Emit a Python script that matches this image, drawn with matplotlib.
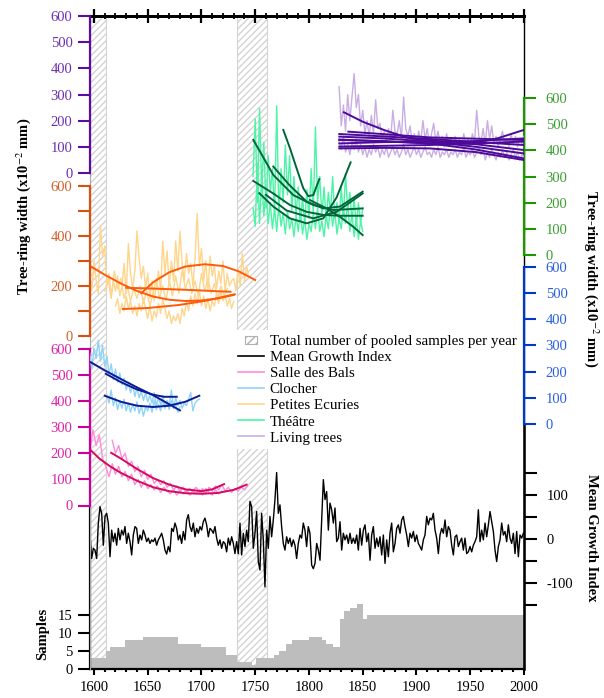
import matplotlib.pyplot as plt
import matplotlib.patches as patches
from matplotlib.lines import Line2D
from matplotlib.legend_handler import HandlerPatch
from matplotlib.ticker import MultipleLocator
import numpy as np

plt.rcParams['font.family'] = ['Liberation Serif', 'DejaVu Serif']
plt.rcParams['mathtext.fontset'] = 'stix'
plt.rcParams['axes.unicode_minus'] = False
plt.rcParams['hatch.linewidth'] = 1.0


def yrs(start, step, vals):
    return np.arange(len(vals)) * step + start


# ---------------- data ----------------
# sample depth (step function)
samp_edges = [1596, 1611, 1615, 1629, 1646, 1678, 1700, 1723, 1733, 1747, 1751,
              1767, 1772, 1779, 1784, 1800, 1812, 1816, 1822, 1829, 1833, 1838,
              1845, 1850, 1854, 2000]
samp_counts = [3, 5, 6, 8, 9, 7, 6, 4, 2, 1, 3, 4, 5, 7, 8, 9, 8, 7, 6, 14, 16,
               17, 18, 14, 15]

# gaps (hatched)
gaps = [(1596.3, 1611.2), (1733.3, 1760.7)]

# mean growth index
mgi_a = [9, -44, -21, -25, -44, 36, 73, 58, -14, 51, 58, 36, -40, 20, -6, 13, -14,
         24, -2, 20, 9, 28, -10, 13, -6, -36, 9, 28, 24, -10, 9, -2, 20, 9, -6, 2,
         -10, -2, -6, 2, -14, -2, 5, 13, -2, -25, -34, -17, -29, 24, 17, 36, 24, -2,
         9, -10, 17, -2, 43, 55, 28, 17, 36, 5, 24, 13, 28, 20, 39, 47, 32, 5, 24,
         20, 13, 28, 2, -14, -2, -21, -6, -10, -29, 2, -14, 5, -10, -33, -6, -33,
         36, -36, 13, -17, 20, -6, 85, 73, -21, 13, 62, -51, -70, 58, -2, -108, 20,
         -21, 51, 5, 43, 89, 150, 58, 77, 28, -10, -25, 5, -10, 2, -17, -2, -14,
         -44, -10, 9, 2, 36, 20, -17, 28, 13]
mgi_b = [-59, -67, -55, -10, -25, -48, 43, 134, 89, 107, 20, 81, 66, 36, 70, -6, 2,
         39, -25, 13, -2, 9, -10, 13, -10, 2, -10, 9, -25, 24, -14, 20, 32, -6, 13,
         -48, 9, 28, -21, 2, -17, 5, -36, 9, -55, -2, -40, 13, 36, -29, -10, 24, 32,
         13, 43, 51, 28, 9, -17, 13, 2, 17, -6, 9, -10, -17, -25, -2, 9, 51, 32, 47,
         43, 58, 20, 2, -33, 9, 24, 13, 43, 5, 28, 20, -14, -36, 5, 9, -17, -6, 2,
         -25, 2, -33, -29, -17, -29, -14, -6, 5, 66, -6, 20, -2, 36, 5, 32, 62, 39,
         17, -25, -51, -17, -2, 36, 9, 17, -6, 32, 2, -10, 13, -33, 17, -40, 9, 2, 13]
mgi_years = np.concatenate([np.linspace(1596.3, 1800.9, len(mgi_a)),
                            np.linspace(1802.5, 1999.4, len(mgi_b))])
mgi_vals = mgi_a + mgi_b

# Salle des Bals (pink axis)
sdb_a = [200, 290, 230, 270, 180, 150, 110, 160, 120, 150, 110, 130, 95, 120, 80,
         100, 70, 95, 65, 80, 60, 75, 50, 70, 55, 45, 60, 40, 55, 45, 60, 40, 55, 45,
         60, 40, 65, 50, 40, 60, 45, 55]
sdb_b = [250, 200, 230, 180, 200, 150, 170, 130, 150, 110, 135, 100, 120, 85, 100,
         80, 95, 70, 85, 60, 75, 55, 70, 50, 65, 55, 70, 50, 65, 45, 70, 55, 75, 60,
         80, 55, 70, 50, 65, 55, 70, 60, 75]
sdb_trend_x = [[1596, 1605, 1615, 1625, 1640, 1655, 1670, 1685, 1700, 1715, 1730, 1742],
               [1616, 1625, 1640, 1655, 1670, 1685, 1700, 1710, 1721]]
sdb_trend_y = [[216, 180, 150, 125, 95, 70, 55, 47, 45, 48, 60, 80],
               [202, 180, 140, 105, 80, 62, 55, 62, 82]]

# Clocher (blue axis)
clo_a = [270, 210, 290, 250, 320, 240, 300, 220, 260, 190, 230, 170, 210, 160, 195,
         150, 175, 130, 160, 120, 150, 105, 140, 100, 125, 90, 120, 85, 110, 80, 120,
         70, 100, 75, 110, 65, 90, 70, 130, 60, 100, 70, 90, 60, 80, 70, 95, 120, 50,
         80, 90, 95]
clo_b = [110, 80, 130, 70, 100, 55, 90, 60, 95, 50, 80, 45, 75, 50, 85, 40, 70, 30,
         65, 50, 80, 45, 90, 55, 75, 50, 95, 60, 80, 55, 90, 60, 75, 45, 65]
clo_trend_x = [[1597, 1610, 1625, 1640, 1655, 1668, 1680],
               [1611, 1625, 1640, 1655, 1665, 1677],
               [1610, 1625, 1640, 1655, 1670, 1685, 1698]]
clo_trend_y = [[236, 205, 172, 140, 110, 80, 52],
               [192, 160, 132, 112, 104, 104],
               [108, 85, 70, 65, 70, 85, 108]]

# Petites Ecuries (orange axis)
pe_a = [240, 180, 300, 220, 170, 440, 320, 360, 200, 250, 160, 220, 180, 240, 160,
        200, 290, 170, 370, 250, 190, 260, 420, 310, 230, 280, 190, 250, 150, 220,
        140, 200, 260, 180, 380, 250, 340, 200, 300, 220, 380, 260, 420, 290, 220,
        330, 250, 290, 200, 310, 490, 280, 350, 220, 300, 180, 320, 240, 280, 190,
        260, 210, 300, 180, 250, 200, 220, 230, 180, 270, 200, 330, 220, 280, 230]
pe_b = [120, 150, 90, 130, 100, 160, 110, 140, 90, 120, 80, 130, 100, 150, 110, 70,
        120, 60, 100, 75, 130, 90, 150, 110, 70, 100, 50, 80, 60, 90, 50, 110, 80,
        140, 100, 160, 120, 170, 130, 180, 120, 160, 110, 150, 100, 140, 120, 170,
        130, 180, 140, 160, 120, 150, 110, 140]
pe_c = [180, 230, 150, 260, 190, 230, 150, 200, 140, 190, 150, 200, 130, 180, 120,
        170, 230, 150, 200, 140, 220, 160, 240, 170, 260, 190, 230, 170, 220, 160,
        250, 180, 230, 170, 210, 150, 200, 160, 190]
pe_trend_x = [[1596, 1610, 1625, 1640, 1655, 1670, 1685, 1700, 1715, 1730],
              [1644, 1655, 1670, 1685, 1703, 1720, 1735, 1750],
              [1630, 1660, 1690, 1715, 1727],
              [1627, 1650, 1679, 1705, 1731]]
pe_trend_y = [[281, 245, 210, 180, 158, 145, 140, 142, 150, 164],
              [171, 215, 255, 278, 287, 280, 258, 224],
              [193, 189, 184, 179, 177],
              [108, 112, 124, 142, 167]]

# Theatre (green axis)
th_a = [300, 520, 200, 560, 250, 430, 180, 380, 240, 330, 160, 570, 150, 330, 200,
        420, 230, 380, 170, 300, 150, 260, 130, 220, 120, 250, 140, 330, 160, 490,
        200, 300, 150, 260, 130, 240, 160, 300, 140, 200, 120, 260, 150, 310, 170,
        240, 130, 220, 110, 200, 120, 180]
th_b = [180, 110, 350, 120, 300, 150, 250, 120, 200, 100, 180, 90, 200, 110, 160,
        80, 170, 100, 140, 70, 150, 90, 170, 80, 140, 60, 120, 90, 160, 100, 180, 90,
        130, 70, 150, 100, 190, 110, 170, 80, 140, 100, 180, 120, 200, 90, 160, 70,
        140, 60, 130, 90]
th_trend_x = [[1748.2, 1766.8, 1785.4, 1804, 1822.6, 1849.9],
              [1776.1, 1782.3, 1788.5, 1794.7, 1799.4, 1804, 1809.6],
              [1766.8, 1782.3, 1797.8, 1813.3, 1828.8, 1849.9],
              [1748.2, 1766.8, 1782.3, 1797.8, 1813.3, 1828.8, 1849.9],
              [1753.8, 1766.8, 1782.3, 1797.8, 1813.3, 1825.7, 1838.7],
              [1760, 1779.2, 1804, 1825.7, 1849.9],
              [1800.9, 1816.4, 1828.8, 1841.2, 1849.9]]
th_trend_y = [[440, 306, 229, 191, 172, 178],
              [478, 408, 331, 255, 225, 229, 290],
              [338, 265, 204, 178, 185, 242],
              [283, 235, 191, 165, 153, 150, 150],
              [236, 185, 140, 121, 140, 220, 354],
              [230, 170, 140, 165, 235],
              [210, 178, 146, 108, 76]]

# Living trees (purple axis)
liv_a = [330, 180, 260, 160, 300, 200, 290, 380, 250, 300, 180, 240, 150, 200, 140,
         220, 150, 280, 170, 190, 130, 160, 120, 170, 130, 240, 160, 150, 200, 130,
         290, 170, 140, 180, 120, 150, 110, 160, 120, 200, 130, 170, 110, 150, 190,
         120, 160, 110, 140, 100, 150, 110, 130, 100, 140, 110, 130, 100, 150, 110,
         130, 100, 150, 120, 240, 140, 120, 170, 110, 200, 130, 180, 110, 140, 100,
         130, 160, 110, 130, 100, 150, 110, 140, 100, 130, 110, 140]
liv_b = [120, 90, 140, 80, 110, 70, 120, 90, 130, 80, 110, 70, 100, 60, 90, 70, 110,
         80, 100, 60, 90, 70, 100, 60, 80, 100, 70, 90, 60, 80, 110, 70, 90, 60, 80,
         100, 70, 90, 60, 80, 100, 70, 80, 60, 90, 70, 100, 60, 80, 70, 90, 60, 80,
         70, 90, 60, 80, 70, 100, 60, 80, 70, 90, 60, 80, 100, 70, 90, 50, 80, 60, 90,
         70, 50, 80, 60, 90, 60, 80, 50, 70, 90, 60, 80, 50, 70, 60]
liv_trend_x = [[1832.5, 1850, 1870, 1894, 1920, 1953, 1975, 1999.4],
               [1836.6, 1912.5, 1999.4],
               [1828.2, 1912.5, 1999.4],
               [1828.2, 1870, 1912.5, 1955, 1999.4],
               [1828.2, 1870, 1912.5, 1955, 1999.4],
               [1828.2, 1870, 1912.5, 1955, 1999.4],
               [1828.2, 1912.5, 1999.4],
               [1828.2, 1870, 1912.5, 1955, 1999.4],
               [1828.2, 1912.5, 1999.4]]
liv_trend_y = [[232, 196, 164, 132, 122, 116, 132, 164],
               [158, 136, 126],
               [149, 130, 107],
               [139, 132, 120, 100, 75],
               [126, 122, 113, 90, 56],
               [113, 118, 120, 110, 88],
               [101, 107, 120],
               [94, 96, 94, 80, 50],
               [128, 113, 132]]

# ---------------- layout ----------------
W, H = 604, 698
TOP, BOT, LEFT, RIGHT = 16, 669, 90, 524
rect = [LEFT / W, 1 - BOT / H, (RIGHT - LEFT) / W, (BOT - TOP) / H]
TICK_FS = 10.5

fig = plt.figure(figsize=(W / 100, H / 100), dpi=100)


def place(ax, v0, y0, v1, y1):
    # value v0 sits at pixel row y0, v1 at pixel row y1
    s = (v1 - v0) / (y0 - y1)
    ax.set_ylim(v0 - (BOT - y0) * s, v0 + (y0 - TOP) * s)


def px(ax, y):
    lo, hi = ax.get_ylim()
    return lo + (BOT - y) / (BOT - TOP) * (hi - lo)


# samples axes (base)
ax_s = fig.add_axes(rect)
ax_s.set_xlim(1596.3, 2000)
place(ax_s, 0, 669, 15, 615)
for g0, g1 in gaps:
    ax_s.axvspan(g0, g1, facecolor='white', edgecolor='#d4d4d4',
                 hatch='/////', lw=0.8, zorder=0)
ax_s.stairs(samp_counts, samp_edges, fill=True, color='#bdbdbd', zorder=1)
ax_s.spines['left'].set_bounds(0, px(ax_s, 505.5))
ax_s.spines['left'].set_linewidth(1.6)
ax_s.spines['bottom'].set_linewidth(1.6)
ax_s.spines['top'].set_linewidth(2.0)
ax_s.spines['right'].set_linewidth(1.0)
ax_s.set_yticks([0, 5, 10, 15])
ax_s.tick_params(axis='y', direction='out', length=8.6, width=1.5,
                 labelsize=TICK_FS, pad=4)
ax_s.xaxis.set_major_locator(MultipleLocator(50))
ax_s.xaxis.set_minor_locator(MultipleLocator(10))
ax_s.tick_params(axis='x', which='major', direction='out', length=4.5,
                 width=1.5, labelsize=TICK_FS, pad=4)
ax_s.tick_params(axis='x', which='minor', direction='out', length=2.5, width=1.5)
sec = ax_s.secondary_xaxis('top')
sec.xaxis.set_major_locator(MultipleLocator(50))
sec.xaxis.set_minor_locator(MultipleLocator(10))
sec.tick_params(axis='x', which='major', direction='inout', length=9.5,
                width=1.6, labeltop=False)
sec.tick_params(axis='x', which='minor', direction='inout', length=5, width=1.3)
sec.spines['top'].set_linewidth(2.0)


def overlay(side, spine_color, label_color, v0, y0, v1, y1):
    a = fig.add_axes(rect, sharex=ax_s)
    a.patch.set_visible(False)
    place(a, v0, y0, v1, y1)
    for sp in a.spines.values():
        sp.set_visible(False)
    sp = a.spines[side]
    sp.set_visible(True)
    sp.set_color(spine_color)
    sp.set_linewidth(1.6)
    sp.set_bounds(v0, v1)
    a.yaxis.set_ticks_position(side)
    a.tick_params(axis='y', which='both', color=spine_color,
                  labelcolor=label_color, direction='out', length=8.6,
                  width=1.5, labelsize=TICK_FS,
                  pad=4 if side == 'left' else 7)
    a.tick_params(axis='x', which='both', bottom=False, top=False,
                  labelbottom=False)
    return a


# mean growth index
ax_m = fig.add_axes(rect, sharex=ax_s)
ax_m.patch.set_visible(False)
place(ax_m, 0, 539, 100, 494.7)
for s in ['top', 'bottom']:
    ax_m.spines[s].set_visible(False)
ax_m.spines['left'].set_color('#a8a8a8')
ax_m.spines['left'].set_linewidth(0.8)
ax_m.spines['right'].set_linewidth(1.8)
ax_m.spines['right'].set_bounds(px(ax_m, 669), px(ax_m, 424))
ax_m.yaxis.set_ticks_position('right')
ax_m.set_yticks([-100, 0, 100])
ax_m.set_yticks([-150, -50, 50, 150], minor=True)
ax_m.tick_params(axis='y', which='both', direction='out', length=9.5,
                 width=1.5, labelsize=TICK_FS, pad=7)
ax_m.tick_params(axis='x', which='both', bottom=False, top=False,
                 labelbottom=False)
ax_m.plot(mgi_years, mgi_vals, color='black', lw=1.0)

# Petites Ecuries
ax_o = overlay('left', '#d9500f', '#d2602a', 0, 336, 600, 186)
ax_o.set_yticks([0, 200, 400, 600])
ax_o.set_yticks([100, 300, 500], minor=True)
ax_o.plot(yrs(1596, 2, pe_a), pe_a, color='#ffd58c', lw=1.0)
ax_o.plot(yrs(1620, 2, pe_b), pe_b, color='#ffd58c', lw=1.0)
ax_o.plot(yrs(1610, 3, pe_c), pe_c, color='#ffd58c', lw=1.0)
for tx, ty in zip(pe_trend_x, pe_trend_y):
    ax_o.plot(tx, ty, color='#ff5a0a', lw=1.4)

# Salle des Bals
ax_p = overlay('left', '#cc0099', '#dd22aa', 0, 505.5, 600, 349)
ax_p.set_yticks(np.arange(0, 601, 100))
ax_p.plot(yrs(1596, 3, sdb_a), sdb_a, color='#ff8ade', lw=1.0)
ax_p.plot(yrs(1617, 3, sdb_b), sdb_b, color='#ff8ade', lw=1.0)
for tx, ty in zip(sdb_trend_x, sdb_trend_y):
    ax_p.plot(tx, ty, color='#d40a5c', lw=1.4)

# Clocher
ax_b = overlay('right', '#0038cc', '#2a5fe0', 0, 424, 600, 267)
ax_b.set_yticks(np.arange(0, 601, 100))
ax_b.plot(yrs(1596, 2, clo_a), clo_a, color='#8fd3fa', lw=1.0)
ax_b.plot(yrs(1612, 2, clo_b), clo_b, color='#8fd3fa', lw=1.0)
for tx, ty in zip(clo_trend_x, clo_trend_y):
    ax_b.plot(tx, ty, color='#0d1a96', lw=1.4)

# Theatre
ax_g = overlay('right', '#1e9600', '#3a9e30', 0, 255, 600, 98)
ax_g.set_yticks(np.arange(0, 601, 100))
ax_g.plot(yrs(1748, 2, th_a), th_a, color='#4cf5a6', lw=1.0)
ax_g.plot(yrs(1748, 2, th_b), th_b, color='#4cf5a6', lw=1.0)
for tx, ty in zip(th_trend_x, th_trend_y):
    ax_g.plot(tx, ty, color='#00663a', lw=1.4)

# Living trees
ax_u = overlay('left', '#5a0ba0', '#6b2fb0', 0, 173, 600, 16)
ax_u.set_yticks(np.arange(0, 601, 100))
ax_u.plot(yrs(1828, 2, liv_a), liv_a, color='#c9aee6', lw=1.0)
ax_u.plot(yrs(1828, 2, liv_b), liv_b, color='#c9aee6', lw=1.0)
for tx, ty in zip(liv_trend_x, liv_trend_y):
    ax_u.plot(tx, ty, color='#4d0a99', lw=1.4)


# legend
def small_box(legend, orig_handle, xdescent, ydescent, width, height, fontsize):
    return patches.Rectangle((-xdescent + width * 0.27, -ydescent + height * 0.1),
                             width * 0.46, height * 0.8)


hatch_patch = patches.Patch(facecolor='white', edgecolor='#b0b0b0',
                            hatch='////', lw=0.8)
handles = [hatch_patch,
           Line2D([], [], color='black', lw=1.2),
           Line2D([], [], color='#ff8ade', lw=1.2),
           Line2D([], [], color='#8fd3fa', lw=1.2),
           Line2D([], [], color='#ffd58c', lw=1.2),
           Line2D([], [], color='#4cf5a6', lw=1.2),
           Line2D([], [], color='#c9aee6', lw=1.2)]
labels = ['Total number of pooled samples per year', 'Mean Growth Index',
          'Salle des Bals', 'Clocher', 'Petites Ecuries', 'Théâtre',
          'Living trees']
leg = ax_u.legend(handles, labels, loc='upper left',
                  bbox_to_anchor=(233 / W, 1 - 330 / H),
                  bbox_transform=fig.transFigure, fontsize=10.8,
                  handlelength=1.75, handletextpad=0.4, labelspacing=0.17,
                  borderpad=0.3, borderaxespad=0, frameon=True,
                  fancybox=False, framealpha=1, facecolor='white',
                  edgecolor='none',
                  handler_map={patches.Patch: HandlerPatch(patch_func=small_box)})

# axis titles
lab = r'Tree-ring width (x10$^{-2}$ mm)'
fig.text(24 / W, 1 - 206 / H, lab, rotation=90, ha='center', va='center',
         fontsize=10.5, fontweight='bold')
fig.text(591 / W, 1 - 279 / H, lab, rotation=-90, ha='center', va='center',
         fontsize=10.5, fontweight='bold')
fig.text(591 / W, 1 - 538 / H, 'Mean Growth Index', rotation=-90, ha='center',
         va='center', fontsize=10.5, fontweight='bold')
fig.text(43 / W, 1 - 634 / H, 'Samples', rotation=90, ha='center', va='center',
         fontsize=10.5, fontweight='bold')

fig.savefig('out.png', dpi=100)
